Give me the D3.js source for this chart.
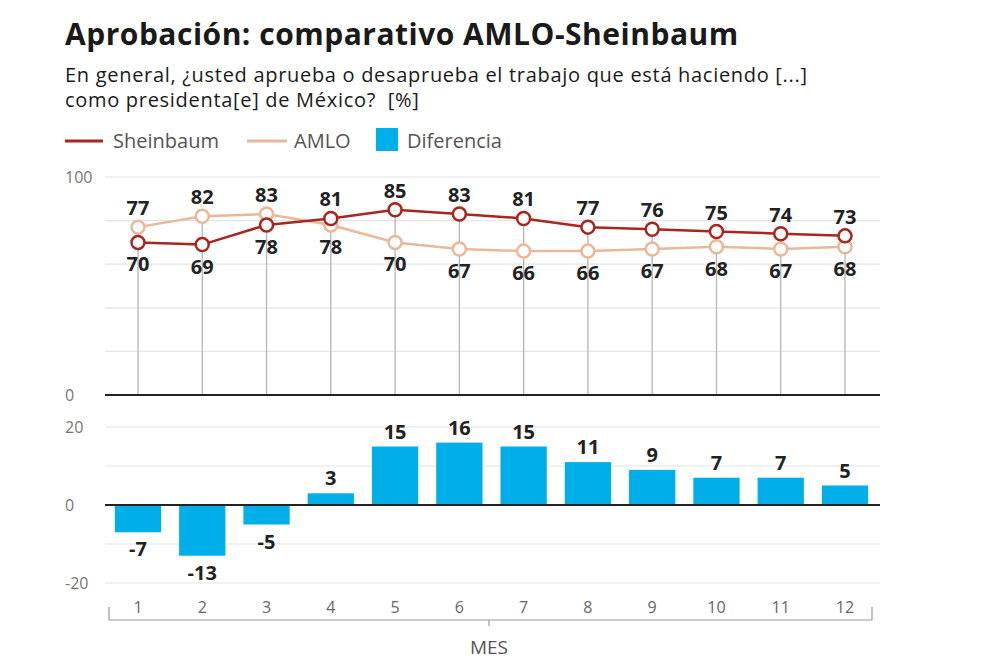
<!DOCTYPE html>
<html><head><meta charset="utf-8">
<script src="https://cdn.jsdelivr.net/npm/d3@7"></script>
<style>
body{margin:0;background:#fff;}
svg{display:block;font-family:"Open Sans",Lato,sans-serif;}
</style></head>
<body>
<svg id="chart" width="993" height="668"></svg>
<script>
const months = [1,2,3,4,5,6,7,8,9,10,11,12];
const sheinbaum = [70,69,78,81,85,83,81,77,76,75,74,73];
const amlo = [77,82,83,78,70,67,66,66,67,68,67,68];
const diferencia = [-7,-13,-5,3,15,16,15,11,9,7,7,5];
const topTicks = [0,20,40,60,80,100];
const topTickLabels = [0,100];
const bottomTicks = [-20,-10,0,10,20];
const bottomTickLabels = [-20,0,20];

const cRed = "#a8261e", cPeach = "#eab898", cBlue = "#00aeea";
const svg = d3.select("#chart");

// Titles
svg.append("text").attr("x",65).attr("y",45).attr("font-size",30).attr("font-weight",700).attr("letter-spacing",0.5).attr("fill","#1a1a1a")
  .text("Aprobación: comparativo AMLO-Sheinbaum");
svg.append("text").attr("x",65).attr("y",82).attr("font-size",20).attr("letter-spacing",0.7).attr("fill","#1a1a1a")
  .text("En general, ¿usted aprueba o desaprueba el trabajo que está haciendo [...]");
svg.append("text").attr("x",65).attr("y",107).attr("font-size",20).attr("letter-spacing",0.7).attr("fill","#1a1a1a")
  .style("white-space","pre")
  .text("como presidenta[e] de México?  [%]");

// Legend
const lg = svg.append("g");
lg.append("line").attr("x1",65).attr("x2",103).attr("y1",141).attr("y2",141).attr("stroke",cRed).attr("stroke-width",3);
lg.append("text").attr("x",113).attr("y",148).attr("font-size",20).attr("fill","#555").text("Sheinbaum");
lg.append("line").attr("x1",247).attr("x2",287).attr("y1",141).attr("y2",141).attr("stroke",cPeach).attr("stroke-width",3);
lg.append("text").attr("x",294).attr("y",148).attr("font-size",20).attr("fill","#555").text("AMLO");
lg.append("rect").attr("x",376).attr("y",128).attr("width",22).attr("height",23).attr("fill",cBlue);
lg.append("text").attr("x",407).attr("y",148).attr("font-size",20).attr("fill","#555").text("Diferencia");

const x = d3.scaleBand().domain(months).range([105.85,877.15]).paddingInner(0.28).paddingOuter(0.14);
const cx = m => x(m) + x.bandwidth()/2;
const gridX0 = 105, gridX1 = 880;

// Top panel
const yT = d3.scaleLinear().domain([0,100]).range([395,177]);
svg.append("g").selectAll("line").data(topTicks.filter(d=>d>0)).join("line")
  .attr("x1",gridX0).attr("x2",gridX1).attr("y1",d=>yT(d)).attr("y2",d=>yT(d))
  .attr("stroke","#e4e4e4").attr("stroke-width",1.2);
svg.append("g").selectAll("text").data(topTickLabels).join("text")
  .attr("x",65).attr("y",d=>yT(d)+6).attr("font-size",16).attr("fill","#777").text(d=>d);
// drop lines
svg.append("g").selectAll("line").data(months).join("line")
  .attr("x1",cx).attr("x2",cx)
  .attr("y1",(d,i)=>yT(Math.max(sheinbaum[i],amlo[i]))).attr("y2",yT(0))
  .attr("stroke","#b5b5b5").attr("stroke-width",1.3);
svg.append("line").attr("x1",gridX0).attr("x2",gridX1).attr("y1",yT(0)).attr("y2",yT(0)).attr("stroke","#222").attr("stroke-width",2);

const line = d3.line().x(d=>cx(d[0])).y(d=>yT(d[1]));
function drawSeries(vals,color){
  const pts = months.map((m,i)=>[m,vals[i]]);
  svg.append("path").attr("d",line(pts)).attr("fill","none").attr("stroke",color).attr("stroke-width",2.5);
  svg.append("g").selectAll("circle").data(pts).join("circle")
    .attr("cx",d=>cx(d[0])).attr("cy",d=>yT(d[1])).attr("r",6.5)
    .attr("fill","#fff").attr("stroke",color).attr("stroke-width",2.5);
}
drawSeries(amlo,cPeach);
drawSeries(sheinbaum,cRed);

// labels
const lbl = svg.append("g").attr("font-size",20).attr("font-weight",700).attr("fill","#222").attr("text-anchor","middle");
months.forEach((m,i)=>{
  const s = sheinbaum[i], a = amlo[i];
  const hi = Math.max(s,a), lo = Math.min(s,a);
  lbl.append("text").attr("x",cx(m)).attr("y",yT(hi)-12).text(hi);
  lbl.append("text").attr("x",cx(m)).attr("y",yT(lo)+29).text(lo);
});

// Bottom panel
const yB = d3.scaleLinear().domain([-20,20]).range([583,427]);
svg.append("g").selectAll("line").data(bottomTicks.filter(d=>d!==0)).join("line")
  .attr("x1",gridX0).attr("x2",gridX1).attr("y1",d=>yB(d)).attr("y2",d=>yB(d))
  .attr("stroke","#e4e4e4").attr("stroke-width",1.2);
svg.append("g").selectAll("text").data(bottomTickLabels).join("text")
  .attr("x",65).attr("y",d=>yB(d)+6).attr("font-size",16).attr("fill","#777").text(d=>d);
svg.append("g").selectAll("rect").data(months).join("rect")
  .attr("x",d=>x(d)).attr("width",x.bandwidth())
  .attr("y",(d,i)=>yB(Math.max(0,diferencia[i])))
  .attr("height",(d,i)=>Math.abs(yB(diferencia[i])-yB(0)))
  .attr("fill",cBlue);
svg.append("line").attr("x1",gridX0).attr("x2",gridX1).attr("y1",yB(0)).attr("y2",yB(0)).attr("stroke","#222").attr("stroke-width",2);
svg.append("g").attr("font-size",20).attr("font-weight",700).attr("fill","#222").attr("text-anchor","middle")
  .selectAll("text").data(months).join("text")
  .attr("x",cx).attr("y",(d,i)=>diferencia[i]>=0 ? yB(diferencia[i])-8 : yB(diferencia[i])+24)
  .text((d,i)=>diferencia[i]);

// X axis bracket
const ax = svg.append("g");
ax.append("path").attr("d",`M109,607V620H872V607`).attr("fill","none").attr("stroke","#999").attr("stroke-width",1.2);
ax.append("line").attr("x1",489).attr("x2",489).attr("y1",620).attr("y2",626).attr("stroke","#999").attr("stroke-width",1.2);
ax.selectAll("text.tick").data(months).join("text").attr("class","tick")
  .attr("x",cx).attr("y",613).attr("text-anchor","middle").attr("font-size",16).attr("fill","#666").text(d=>d);
ax.append("text").attr("x",489).attr("y",654).attr("text-anchor","middle").attr("font-size",19).attr("fill","#555").text("MES");
</script>
</body></html>
